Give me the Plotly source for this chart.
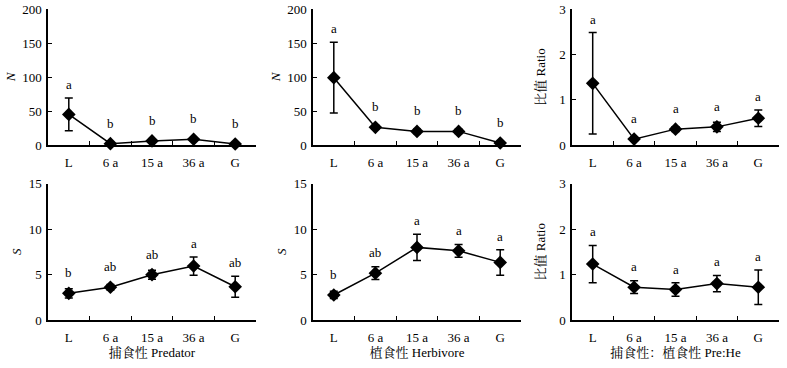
import plotly.graph_objects as go

categories = ["L", "6 a", "15 a", "36 a", "G"]

# Top row: individual number N and ratio
pred_N = [45, 2, 6, 8.5, 1.5]
pred_N_err = [24, 1, 1.5, 2, 1]
pred_N_letters = ["a", "b", "b", "b", "b"]

herb_N = [99, 26, 20, 20, 3]
herb_N_err = [52, 3, 3, 3, 1]
herb_N_letters = ["a", "b", "b", "b", "b"]

ratio_N = [1.36, 0.13, 0.35, 0.40, 0.59]
ratio_N_err = [1.12, 0.04, 0.05, 0.10, 0.18]
ratio_N_letters = ["a", "a", "a", "a", "a"]

# Bottom row: species S and ratio
pred_S = [2.93, 3.6, 4.98, 5.93, 3.65]
pred_S_err = [0.5, 0.3, 0.5, 1.0, 1.15]
pred_S_letters = ["b", "ab", "ab", "a", "ab"]

herb_S = [2.75, 5.15, 7.98, 7.6, 6.33]
herb_S_err = [0.4, 0.7, 1.45, 0.7, 1.4]
herb_S_letters = ["b", "ab", "a", "a", "a"]

ratio_S = [1.23, 0.72, 0.67, 0.80, 0.72]
ratio_S_err = [0.41, 0.14, 0.15, 0.18, 0.38]
ratio_S_letters = ["a", "a", "a", "a", "a"]

x_titles = ["捕食性 Predator", "植食性 Herbivore", "捕食性：植食性 Pre:He"]

W, H = 787, 368
FONT = "Times New Roman, Liberation Serif, Noto Serif CJK SC, Noto Sans CJK SC, serif"

xdoms = [(48, 256), (313, 521), (572, 779)]      # px
ydoms_px = [(9, 145), (183.5, 320)]               # px from top
title_standoff = [4, 4, 11]

panels = [
    (pred_N, pred_N_err, pred_N_letters, 0, 0, [0, 200], 50, "<i>N</i>"),
    (herb_N, herb_N_err, herb_N_letters, 0, 1, [0, 200], 50, "<i>N</i>"),
    (ratio_N, ratio_N_err, ratio_N_letters, 0, 2, [0, 3], 1, "比值 Ratio"),
    (pred_S, pred_S_err, pred_S_letters, 1, 0, [0, 15], 5, "<i>S</i>"),
    (herb_S, herb_S_err, herb_S_letters, 1, 1, [0, 15], 5, "<i>S</i>"),
    (ratio_S, ratio_S_err, ratio_S_letters, 1, 2, [0, 3], 1, "比值 Ratio"),
]

fig = go.Figure()
annotations = []
for i, (vals, errs, letters, row, col, yr, dt, ytitle) in enumerate(panels):
    n = i + 1
    xa = "x" if n == 1 else f"x{n}"
    ya = "y" if n == 1 else f"y{n}"
    fig.add_trace(go.Scatter(
        x=categories, y=vals, xaxis=xa, yaxis=ya, mode="lines+markers",
        line=dict(color="black", width=1.5),
        marker=dict(symbol="diamond", size=10.5, color="black"),
        error_y=dict(type="data", array=errs, visible=True, color="black", thickness=1.5, width=4),
        showlegend=False, cliponaxis=False,
    ))
    x0, x1 = xdoms[col]
    t, b = ydoms_px[row]
    xd = [x0 / W, x1 / W]
    yd = [(H - b) / H, (H - t) / H]
    scale = (b - t) / (yr[1] - yr[0])
    axkey = "xaxis" if n == 1 else f"xaxis{n}"
    aykey = "yaxis" if n == 1 else f"yaxis{n}"
    fig.update_layout(**{
        axkey: dict(domain=xd, anchor=ya, type="category", range=[-0.5, 4.5],
                    showline=True, linecolor="black", linewidth=1.5,
                    ticks="inside", ticklen=4, tickwidth=1.2, tickcolor="black",
                    tickson="boundaries", showgrid=False, zeroline=False,
                    automargin=False, ticklabelstandoff=5,
                    tickfont=dict(family=FONT, size=13, color="black"),
                    title=dict(text=x_titles[col] if row == 1 else "", standoff=2,
                               font=dict(family=FONT, size=13, color="black"))),
        aykey: dict(domain=yd, anchor=xa, range=yr, dtick=dt,
                    showline=True, linecolor="black", linewidth=1.5,
                    ticks="inside", ticklen=4, tickwidth=1.2, tickcolor="black",
                    showgrid=False, zeroline=False, automargin=False,
                    ticklabelstandoff=2,
                    tickfont=dict(family=FONT, size=13, color="black"),
                    title=dict(text=ytitle, standoff=title_standoff[col],
                               font=dict(family=FONT, size=13, color="black"))),
    })
    for c, v, e, lab in zip(categories, vals, errs, letters):
        shift = max(e * scale, 7) + 4
        annotations.append(dict(x=c, y=v, xref=xa, yref=ya, text=lab, showarrow=False,
                                yanchor="bottom", yshift=shift,
                                font=dict(family=FONT, size=13, color="black")))

fig.update_layout(width=W, height=H, margin=dict(l=0, r=0, t=0, b=0),
                  plot_bgcolor="white", paper_bgcolor="white",
                  annotations=annotations)
fig.write_html("out.html", config={"displayModeBar": False},
               post_script="document.body.style.margin='0px';")
